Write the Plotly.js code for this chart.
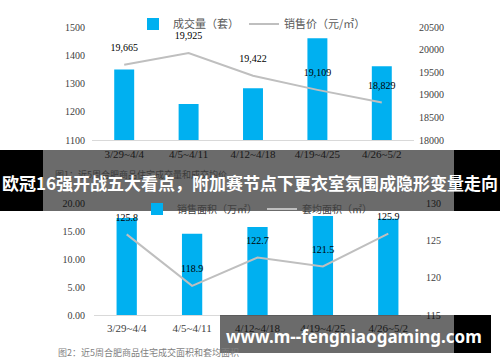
<!DOCTYPE html>
<html><head><meta charset="utf-8">
<script src="https://cdn.plot.ly/plotly-3.0.1.min.js"></script>
<style>html,body{margin:0;padding:0;background:#fff}#chart{width:500px;height:362px}</style>
</head><body><div id="chart"></div>
<script>
// ---- data ----
const weeks = ["3/29~4/4", "4/5~4/11", "4/12~4/18", "4/19~4/25", "4/26~5/2"];
const volumeSets = [1350, 1227, 1283, 1460, 1361];          // 成交量（套）
const avgPrice = [19665, 19925, 19422, 19109, 18829];       // 销售价（元/㎡）
const salesArea = [17.3, 14.5, 15.7, 17.7, 17.2];           // 销售面积（万㎡）
const avgArea = [125.8, 118.9, 122.7, 121.5, 125.9];        // 套均面积（㎡）
const leftTicks1 = [1100, 1200, 1300, 1400, 1500];
const rightTicks1 = [18000, 18500, 19000, 19500, 20000, 20500];
const leftTicks2 = [0, 5, 10, 15, 20];
const rightTicks2 = [115, 120, 125, 130];
const bannerText = "欧冠16强开战五大看点，附加赛节点下更衣室氛围成隐形变量走向";
const watermarkText = "www.m--fengniaogaming.com";
const caption1 = "图1：近5周合肥商品住宅成交量和成交均价";
const caption2 = "图2：近5周合肥商品住宅成交面积和套均面积";

// ---- helpers ----
const W = 500, H = 362;
const px = x => x / W;
const py = y => 1 - y / H;
const BLUE = "#00b0f0", GREY = "#bfbfbf";
const serif = "Liberation Serif, Times New Roman, serif";
const cjk = "Noto Sans CJK SC, sans-serif";
const hiddenMarker = {size: 16, color: "rgba(0,0,0,0)"};

const traces = [
  {type: "bar", name: "成交量（套）", x: weeks, y: volumeSets, xaxis: "x", yaxis: "y",
   marker: {color: BLUE}, legend: "legend"},
  {type: "scatter", mode: "lines+markers+text", name: "销售价（元/㎡）", x: weeks, y: avgPrice,
   xaxis: "x", yaxis: "y2", line: {color: GREY, width: 2}, marker: hiddenMarker,
   text: avgPrice.map(v => v.toLocaleString("en-US")), textposition: "top center",
   textfont: {family: serif, size: 10, color: "#000"}, cliponaxis: false, legend: "legend"},
  {type: "bar", name: "销售面积（万㎡）", x: weeks, y: salesArea, xaxis: "x2", yaxis: "y3",
   marker: {color: BLUE}, legend: "legend2"},
  {type: "scatter", mode: "lines+markers+text", name: "套均面积（㎡）", x: weeks, y: avgArea,
   xaxis: "x2", yaxis: "y4", line: {color: GREY, width: 2}, marker: hiddenMarker,
   text: avgArea.map(v => v.toFixed(1)), textposition: "top center",
   textfont: {family: serif, size: 10, color: "#000"}, cliponaxis: false, legend: "legend2"}
];

const tickFont = {family: serif, size: 10, color: "#404040"};
const xTickFont = {family: serif, size: 11, color: "#404040"};

const layout = {
  width: W, height: H,
  margin: {l: 0, r: 0, t: 0, b: 0},
  paper_bgcolor: "#fff", plot_bgcolor: "rgba(0,0,0,0)",
  bargap: 0.69,
  showlegend: true,
  xaxis: {domain: [px(92), px(414)], anchor: "y", type: "category", showline: true,
          linecolor: "#d9d9d9", linewidth: 1, showgrid: false, zeroline: false,
          tickfont: xTickFont, ticks: "", ticklabelstandoff: 4},
  yaxis: {domain: [py(140), py(27)], range: [1100, 1500], tickvals: leftTicks1,
          tickformat: "d", showgrid: false, zeroline: false, showline: false, tickfont: tickFont,
          ticks: "", ticklabelstandoff: 6},
  yaxis2: {overlaying: "y", side: "right", anchor: "x", range: [18000, 20500],
           tickvals: rightTicks1, tickformat: "d", showgrid: false, zeroline: false, showline: false,
           tickfont: tickFont, ticks: "", ticklabelstandoff: 4},
  xaxis2: {domain: [px(94), px(421)], anchor: "y3", type: "category", showline: true,
           linecolor: "#d9d9d9", linewidth: 1, showgrid: false, zeroline: false,
           tickfont: xTickFont, ticks: "", ticklabelstandoff: 3},
  yaxis3: {domain: [py(315), py(203)], range: [0, 20], tickvals: leftTicks2,
           tickformat: ".2f", showgrid: false, zeroline: false, showline: false,
           tickfont: tickFont, ticks: "", ticklabelstandoff: 6},
  yaxis4: {overlaying: "y3", side: "right", anchor: "x2", range: [115, 130],
           tickvals: rightTicks2, tickformat: "d", showgrid: false, zeroline: false, showline: false,
           tickfont: tickFont, ticks: "", ticklabelstandoff: 4},
  legend: {orientation: "h", x: px(133), xanchor: "left", y: py(24), yanchor: "middle",
           font: {family: cjk, size: 11, color: "#595959"}, bgcolor: "rgba(0,0,0,0)",
           borderwidth: 0},
  legend2: {orientation: "h", x: px(137), xanchor: "left", y: py(209), yanchor: "middle",
            font: {family: cjk, size: 10, color: "#404040"}, bgcolor: "rgba(0,0,0,0)",
            borderwidth: 0},
  shapes: [
    {type: "rect", xref: "paper", yref: "paper", layer: "above", line: {width: 0},
     x0: px(0), x1: px(43), y0: py(150), y1: py(211), fillcolor: "#000"},
    {type: "rect", xref: "paper", yref: "paper", layer: "above", line: {width: 0},
     x0: px(43), x1: px(454), y0: py(150), y1: py(211), fillcolor: "rgba(0,0,0,0.58)"},
    {type: "rect", xref: "paper", yref: "paper", layer: "above", line: {width: 0},
     x0: px(454), x1: px(500), y0: py(150), y1: py(211), fillcolor: "#000"},
    {type: "rect", xref: "paper", yref: "paper", layer: "above", line: {width: 0},
     x0: px(220), x1: px(454), y0: py(315), y1: py(353), fillcolor: "rgba(0,0,0,0.58)"},
    {type: "rect", xref: "paper", yref: "paper", layer: "above", line: {width: 0},
     x0: px(454), x1: px(491), y0: py(315), y1: py(353), fillcolor: "#000"}
  ],
  annotations: [
    {text: caption1, xref: "paper", yref: "paper", x: px(53), y: py(175), xanchor: "left",
     yanchor: "middle", showarrow: false, font: {family: cjk, size: 9, color: "#3a3a3a"}},
    {text: caption2, xref: "paper", yref: "paper", x: px(56), y: py(352), xanchor: "left",
     yanchor: "middle", showarrow: false, font: {family: cjk, size: 9, color: "#7f7f7f"}},
    {text: "<b>" + bannerText + "</b>", xref: "paper", yref: "paper", x: 0.5, y: py(182),
     xanchor: "center", yanchor: "middle", showarrow: false,
     font: {family: cjk, size: 17, color: "#fff"}},
    {text: "<b>" + watermarkText + "</b>", xref: "paper", yref: "paper", x: px(354), y: py(336),
     xanchor: "center", yanchor: "middle", showarrow: false,
     font: {family: "Noto Sans, sans-serif", size: 17, color: "#fff"}}
  ]
};

Plotly.newPlot("chart", traces, layout, {staticPlot: true, displayModeBar: false});
</script>
</body></html>
